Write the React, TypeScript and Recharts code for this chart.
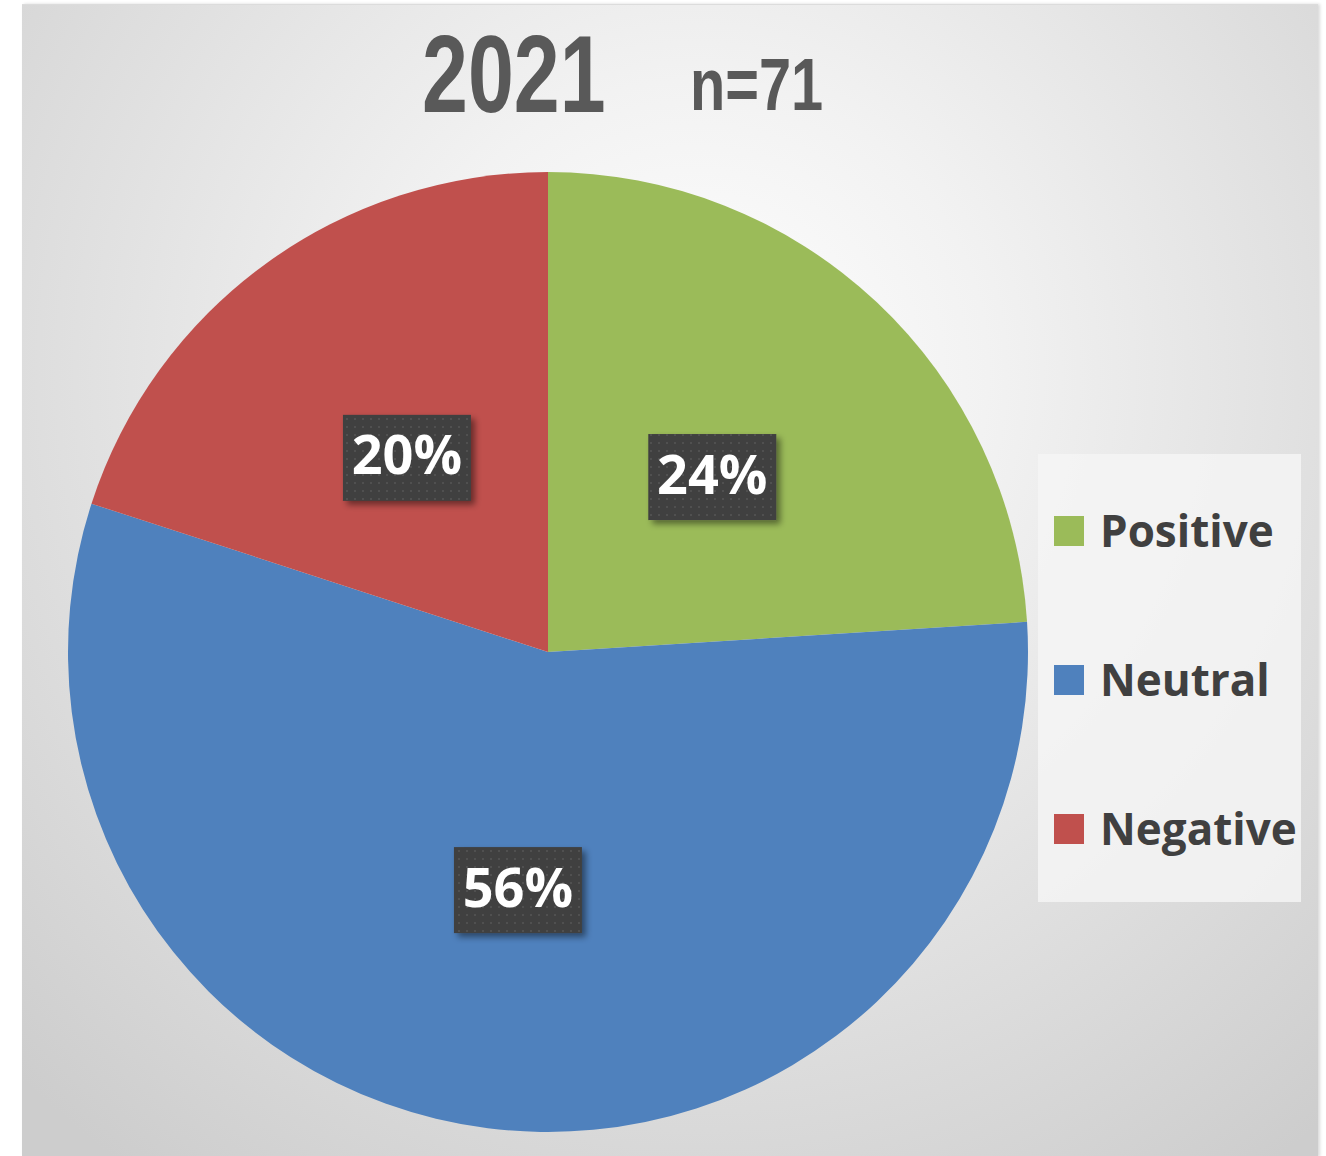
import React from "react";
import { PieChart, Pie, Cell } from "recharts";

const categories = ["Positive", "Neutral", "Negative"];
const values = [24, 56, 20];
const colors = ["#9BBB59", "#4F81BD", "#C0504D"];
const titleYear = "2021";
const titleN = "n=71";

const data = categories.map((name, i) => ({ name, value: values[i] }));

const RAD = Math.PI / 180;

const renderLabel = (props: any) => {
  const { cx, cy, midAngle, outerRadius, value } = props;
  const r = outerRadius * 0.5;
  const x = cx + r * Math.cos(-midAngle * RAD);
  const y = cy + r * Math.sin(-midAngle * RAD);
  const w = 128;
  const h = 86;
  return (
    <g>
      <rect x={x - w / 2} y={y - h / 2} width={w} height={h} fill="#3f3f3f" filter="url(#lblShadow)" />
      <rect x={x - w / 2} y={y - h / 2} width={w} height={h} fill="url(#dotPat)" />
      <text
        x={x}
        y={y + 2}
        textAnchor="middle"
        dominantBaseline="middle"
        fill="#ffffff"
        fontFamily="'Open Sans', sans-serif"
        fontWeight={700}
        fontSize={54}
      >
        {`${value}%`}
      </text>
    </g>
  );
};

export default function App() {
  return (
    <div style={{ position: "absolute", left: 0, top: 0, width: 1326, height: 1156, background: "#ffffff", overflow: "hidden" }}>
      <svg width={0} height={0} style={{ position: "absolute" }}>
        <defs>
          <pattern id="dotPat" width={8} height={8} patternUnits="userSpaceOnUse">
            <rect x={2} y={2} width={2} height={2} fill="#505050" />
          </pattern>
          <filter id="lblShadow" x="-20%" y="-20%" width="150%" height="150%">
            <feDropShadow dx={4} dy={4} stdDeviation={3} floodColor="#000" floodOpacity={0.45} />
          </filter>
        </defs>
      </svg>
      <div
        style={{
          position: "absolute",
          left: 22,
          top: 4,
          width: 1296,
          height: 1152,
          background: "radial-gradient(ellipse 75% 85% at 52% 32%, #ffffff 0%, #f2f2f2 30%, #e2e2e2 60%, #cdcdcd 100%)",
          borderTop: "1px solid #dcdcdc",
          boxShadow: "2px 0 3px rgba(0,0,0,0.15)",
        }}
      />
      <div style={{ position: "absolute", left: 0, top: 0, width: 1326, height: 1156 }}>
        <PieChart width={1326} height={1156} margin={{ top: 0, right: 0, bottom: 0, left: 0 }}>
          <Pie
            data={data}
            dataKey="value"
            nameKey="name"
            cx={548}
            cy={652}
            outerRadius={480}
            startAngle={90}
            endAngle={-270}
            stroke="none"
            labelLine={false}
            label={renderLabel}
            isAnimationActive={false}
          >
            {data.map((d, i) => (
              <Cell key={d.name} fill={colors[i]} />
            ))}
          </Pie>
        </PieChart>
      </div>
      <div
        style={{
          position: "absolute",
          left: 1038,
          top: 454,
          width: 263,
          height: 448,
          background: "rgba(244,244,244,0.85)",
          boxSizing: "border-box",
          paddingLeft: 16,
          paddingTop: 1,
        }}
      >
        {categories.map((c, i) => (
          <div key={c} style={{ display: "flex", alignItems: "center", height: 149 }}>
            <div style={{ width: 30, height: 30, background: colors[i], marginRight: 16, marginTop: 2 }} />
            <span
              style={{
                fontFamily: "'Open Sans', sans-serif",
                fontWeight: 700,
                fontSize: 44,
                color: "#404040",
                lineHeight: 1,
              }}
            >
              {c}
            </span>
          </div>
        ))}
      </div>
      <svg width={1326} height={140} style={{ position: "absolute", left: 0, top: 0, pointerEvents: "none" }}>
        <text
          transform="translate(422,112) scale(0.75,1)"
          x={0}
          y={0}
          fontFamily="'Liberation Sans', Arial, sans-serif"
          fontWeight={700}
          fontSize={110}
          fill="#595959"
        >
          {titleYear}
        </text>
        <text
          transform="translate(690,110) scale(0.78,1)"
          x={0}
          y={0}
          fontFamily="'Liberation Sans', Arial, sans-serif"
          fontWeight={700}
          fontSize={74}
          fill="#595959"
        >
          {titleN}
        </text>
      </svg>
    </div>
  );
}
